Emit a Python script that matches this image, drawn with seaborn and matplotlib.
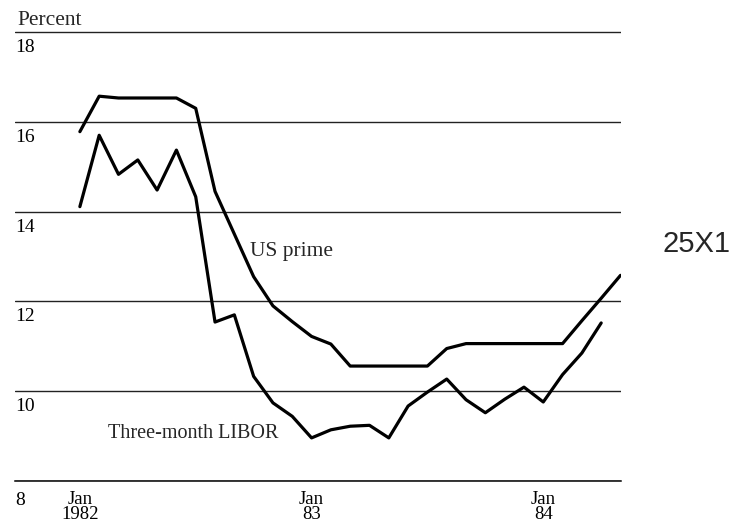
import matplotlib
matplotlib.use("Agg")
import matplotlib.transforms as mtransforms
import pandas as pd
import seaborn as sns
from matplotlib import pyplot as plt

# months counted from Jan 1982 (0) to May 1984 (28)
months = list(range(29))
us_prime = [15.78, 16.57, 16.53, 16.53, 16.53, 16.53, 16.30, 14.45, 13.50,
            12.55, 11.90, 11.55, 11.22, 11.05, 10.56, 10.56, 10.56, 10.56,
            10.56, 10.95, 11.06, 11.06, 11.06, 11.06, 11.06, 11.06, 11.57,
            12.07, 12.58]
libor = [14.11, 15.70, 14.83, 15.15, 14.48, 15.37, 14.33, 11.54, 11.70,
         10.33, 9.74, 9.44, 8.96, 9.14, 9.22, 9.24, 8.96, 9.67, 9.98,
         10.27, 9.81, 9.52, 9.82, 10.09, 9.76, 10.37, 10.85, 11.52]

y_ticks = [8, 10, 12, 14, 16, 18]
y_labels = ["8", "10", "12", "14", "16", "18"]
x_major = [0, 12, 24]
x_major_labels = ["Jan\n1982", "Jan\n83", "Jan\n84"]

df = pd.concat([
    pd.DataFrame({"month": months, "rate": us_prime, "series": "US prime"}),
    pd.DataFrame({"month": months[:len(libor)], "rate": libor,
                  "series": "Three-month LIBOR"}),
])

sns.set_style("white")
plt.rcParams["font.family"] = ["Liberation Serif", "DejaVu Serif"]

fig = plt.figure(figsize=(7.41, 5.23), dpi=100)
ax = fig.add_axes([15 / 741, 42 / 523, 605.5 / 741, 453.5 / 523])

sns.lineplot(data=df, x="month", y="rate", hue="series",
             palette=["black", "black"], linewidth=2.3, legend=False, ax=ax)

ax.set_xlim(-3.36, 28.0)
ax.set_ylim(8, 18.1)
ax.set_xlabel("")
ax.set_ylabel("")

for side in ["left", "right", "top"]:
    ax.spines[side].set_visible(False)
ax.spines["bottom"].set_color("black")
ax.spines["bottom"].set_linewidth(1.1)

ax.set_yticks(y_ticks, y_labels)
ax.grid(axis="y", color="#222222", linewidth=1.0)
ax.grid(axis="x", visible=False)
ax.tick_params(axis="y", length=0, pad=0, labelsize=14, colors="black")

ax.set_xticks(months, minor=True)
ax.set_xticks(x_major, x_major_labels)
ax.tick_params(axis="x", which="major", direction="in", length=14.4,
               width=0.8, pad=7.5, labelsize=13.5, colors="black")
ax.tick_params(axis="x", which="minor", direction="in", length=7.2,
               width=0.8, colors="black")
for lab in ax.get_xticklabels():
    lab.set_linespacing(0.82)

for lab, v in zip(ax.get_yticklabels(), y_ticks):
    lab.set_ha("left")
    lab.set_va("top")
    dy = -11 if v == 8 else -7
    lab.set_transform(lab.get_transform() +
                      mtransforms.ScaledTranslation(0, dy / 100, fig.dpi_scale_trans))

ax.text(8.83, 13.0, "US prime", fontsize=15.5, va="baseline")
ax.text(1.45, 8.95, "Three-month LIBOR", fontsize=14.5, va="baseline")

fig.text(17 / 741, 1 - 25 / 523, "Percent", fontsize=15.5, va="baseline")
fig.text(696 / 741, 1 - 244 / 523, "25X1", family="Liberation Sans",
         fontsize=21, ha="center", va="center")

fig.savefig("out.png", dpi=100)
